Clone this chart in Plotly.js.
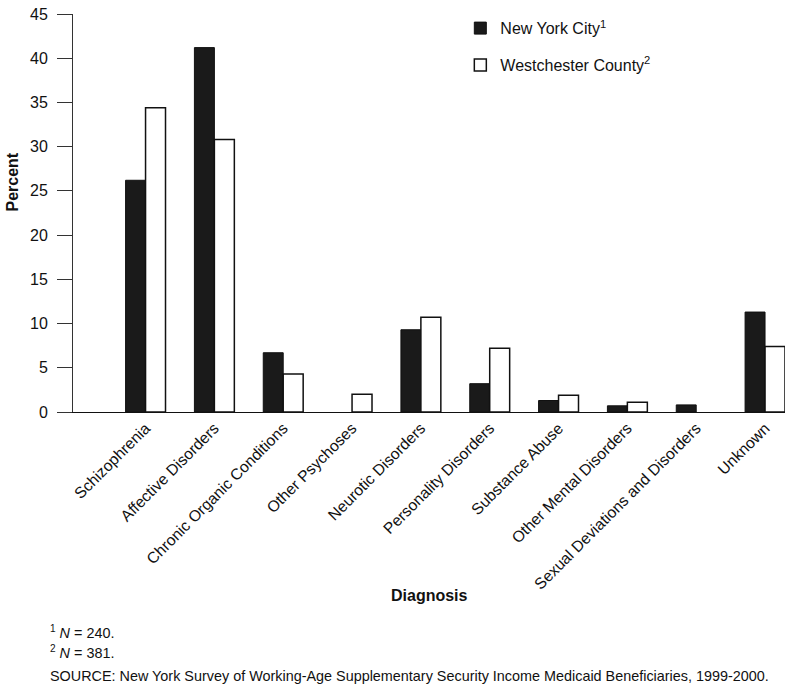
<!DOCTYPE html>
<html>
<head>
<meta charset="utf-8">
<script src="https://cdn.plot.ly/plotly-3.0.1.min.js"></script>
<style>
html,body{margin:0;padding:0;background:#fff;}
#chart{width:792px;height:693px;}
</style>
</head>
<body>
<div id="chart"></div>
<script>
const categories = [
  "Schizophrenia",
  "Affective Disorders",
  "Chronic Organic Conditions",
  "Other Psychoses",
  "Neurotic Disorders",
  "Personality Disorders",
  "Substance Abuse",
  "Other Mental Disorders",
  "Sexual Deviations and Disorders",
  "Unknown"
];
const nycValues = [26.2, 41.2, 6.7, null, 9.3, 3.2, 1.3, 0.7, 0.8, 11.3];
const westValues = [34.4, 30.8, 4.3, 2.0, 10.7, 7.2, 1.9, 1.1, null, 7.4];
const yTicks = [0, 5, 10, 15, 20, 25, 30, 35, 40, 45];
const nycName = "New York City<sup>1</sup>";
const westName = "Westchester County<sup>2</sup>";
const xTitle = "<b>Diagnosis</b>";
const yTitle = "<b>Percent</b>";
const footnotes = [
  "<sup>1</sup> <i>N</i> = 240.",
  "<sup>2</sup> <i>N</i> = 381.",
  "SOURCE: New York Survey of Working-Age Supplementary Security Income Medicaid Beneficiaries, 1999-2000."
];

const xIdx = categories.map((c, i) => i);
const font = "Liberation Sans, Arial, Helvetica, sans-serif";

const traces = [
  {
    type: "bar", x: xIdx, y: nycValues, name: nycName, legendgroup: "a",
    marker: {color: "#1a1a1a", line: {color: "#111", width: 1}}
  },
  {
    type: "bar", x: xIdx, y: westValues, name: westName, legendgroup: "b",
    marker: {color: "#ffffff", line: {color: "#111", width: 1.5}}
  }
];

const annotations = footnotes.map((t, i) => ({
  xref: "paper", yref: "paper", x: -0.035, y: 0, xanchor: "left", yanchor: "middle",
  yshift: -(220 + [0, 20, 44][i]),
  text: t, showarrow: false, font: {family: font, size: 14.4, color: "#111"}
}));
annotations.push({
  xref: "paper", yref: "paper", x: 0.5, y: -0.46, xanchor: "center", yanchor: "middle",
  text: xTitle, showarrow: false, font: {family: font, size: 16, color: "#111"}
});
annotations.push({
  xref: "paper", yref: "paper", x: -0.0843, y: 0.579, xanchor: "center", yanchor: "middle",
  textangle: -90, text: yTitle, showarrow: false, font: {family: font, size: 16, color: "#111"}
});

const layout = {
  width: 792, height: 693,
  margin: {l: 73, r: 7, t: 14, b: 281},
  paper_bgcolor: "#fff", plot_bgcolor: "#fff",
  font: {family: font, color: "#111"},
  barmode: "group", bargap: 0.42, bargroupgap: 0,
  showlegend: true,
  legend: {
    x: 0.544, y: 1.007, xanchor: "left", yanchor: "top",
    font: {family: font, size: 16, color: "#111"},
    traceorder: "grouped", tracegroupgap: 13,
    bgcolor: "rgba(0,0,0,0)"
  },
  xaxis: {
    type: "linear", range: [-1.054, 9.29],
    tickvals: xIdx, ticktext: categories, tickangle: -45,
    ticks: "", showline: true, linecolor: "#111", linewidth: 1,
    showgrid: false, zeroline: false, automargin: false,
    tickfont: {family: font, size: 15.7, color: "#111"}
  },
  yaxis: {
    range: [0, 45], tickvals: yTicks, ticks: "outside", ticklen: 15, tickcolor: "#333",
    showline: true, linecolor: "#333", linewidth: 1,
    showgrid: false, zeroline: false, automargin: false, ticklabelstandoff: 6,
    tickfont: {family: font, size: 16, color: "#111"}
  },
  annotations: annotations
};

Plotly.newPlot("chart", traces, layout, {displayModeBar: false, staticPlot: true});
</script>
</body>
</html>
